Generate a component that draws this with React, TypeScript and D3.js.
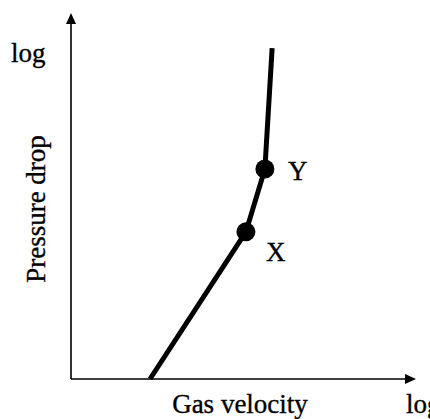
import React from "react";
import * as d3 from "d3";

const curveX = [0.229, 0.507, 0.562, 0.583];
const curveY = [0.0, 0.402, 0.574, 0.904];
const markerIdx = [1, 2];
const markerLabels = ["X", "Y"];
const xAxisTitle = "Gas velocity";
const yAxisTitle = "Pressure drop";
const scaleLabel = "log";

export default function App() {
  const W = 430, H = 419;
  const ox = 71, oy = 379;
  const x = d3.scaleLinear().domain([0, 1]).range([ox, 416]);
  const y = d3.scaleLinear().domain([0, 1]).range([oy, 13]);
  const pts: [number, number][] = curveX.map((v, i) => [x(v), y(curveY[i])]);
  const line = d3.line()(pts) || "";
  const font = "'Liberation Serif', 'Times New Roman', serif";
  const fs = 27;
  const textStyle = { fontFamily: font, fontSize: fs, stroke: "#000", strokeWidth: 0.35 } as React.CSSProperties;
  return (
    <svg width={W} height={H} style={{ position: "absolute", left: 0, top: 0, background: "#fff" }}>
      {/* axes */}
      <line x1={ox} y1={oy} x2={ox} y2={y(1) + 8} stroke="#000" strokeWidth={1.6} />
      <path d={`M${ox},${y(1)} L${ox - 5},${y(1) + 11} L${ox + 5},${y(1) + 11} Z`} fill="#000" />
      <line x1={ox} y1={oy} x2={x(1) - 8} y2={oy} stroke="#000" strokeWidth={1.6} />
      <path d={`M${x(1)},${oy} L${x(1) - 11},${oy - 5} L${x(1) - 11},${oy + 5} Z`} fill="#000" />
      {/* curve */}
      <path d={line} fill="none" stroke="#000" strokeWidth={5} strokeLinejoin="round" />
      {markerIdx.map((i, k) => (
        <circle key={k} cx={pts[i][0]} cy={pts[i][1]} r={9.5} fill="#000" />
      ))}
      <text x={pts[1][0] + 20} y={pts[1][1] + 29} style={textStyle}>{markerLabels[0]}</text>
      <text x={pts[2][0] + 23} y={pts[2][1] + 11} style={textStyle}>{markerLabels[1]}</text>
      {/* labels */}
      <text x={11} y={62} style={textStyle}>{scaleLabel}</text>
      <text x={406} y={413} style={textStyle}>{scaleLabel}</text>
      <text x={240} y={413} textAnchor="middle" style={textStyle}>{xAxisTitle}</text>
      <text transform={`translate(45,209) rotate(-90)`} textAnchor="middle" style={textStyle}>{yAxisTitle}</text>
    </svg>
  );
}
